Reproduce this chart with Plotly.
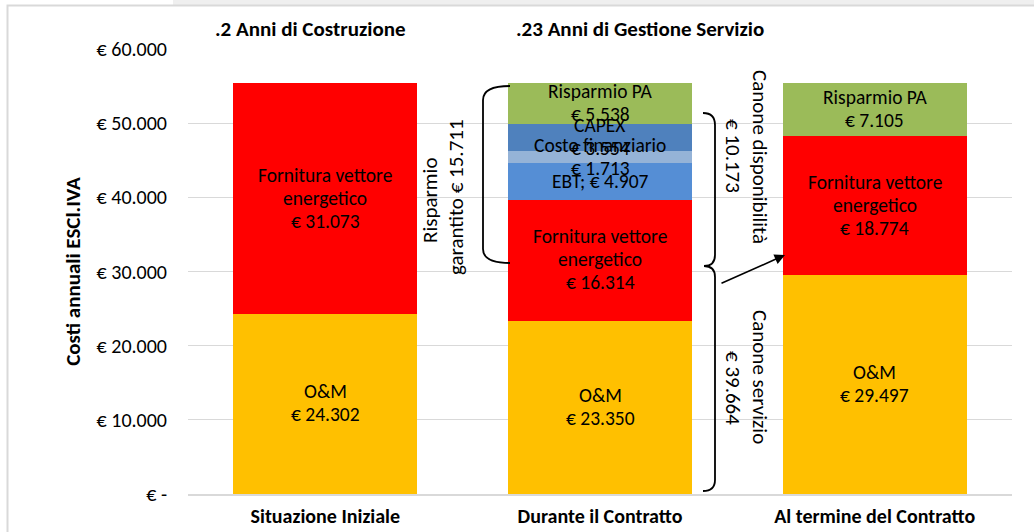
import plotly.graph_objects as go

# ---------------- data ----------------
categories = ["Situazione Iniziale", "Durante il Contratto", "Al termine del Contratto"]
series_names = ["O&M", "Fornitura vettore<br>energetico", "EBT", "Costo finanziario", "CAPEX", "Risparmio PA"]
om = [24302, 23350, 29497]
fornitura = [31073, 16314, 18774]
ebt = [0, 4907, 0]
costo_fin = [0, 1713, 0]
capex = [0, 3554, 0]
risparmio = [0, 5538, 7105]
series_values = [om, fornitura, ebt, costo_fin, capex, risparmio]
series_colors = ["#FFC000", "#FF0000", "#558ED5", "#95B3D7", "#4F81BD", "#9BBB59"]

y_ticks = [0, 10000, 20000, 30000, 40000, 50000, 60000]
y_ticktext = ["€ -", "€ 10.000", "€ 20.000", "€ 30.000", "€ 40.000", "€ 50.000", "€ 60.000"]

section_titles = [".2 Anni di Costruzione", ".23 Anni di Gestione Servizio"]
y_title = "Costi annuali ESCl.IVA"

risparmio_garantito = 15711
canone_disponibilita = 10173
canone_servizio = 39664

FONT = "Carlito, Lato, sans-serif"
W, H = 1034, 532
L, R, T, B = 188, 22, 49, 38
PW, PH = W - L - R, H - T - B


def eur(v):
    return "€ " + f"{v:,}".replace(",", ".")


def px_x(p):  # pixel -> paper x
    return (p - L) / PW


def px_y(p):  # pixel -> paper y
    return (H - B - p) / PH


x = list(range(len(categories)))
fig = go.Figure()
for name, vals, col in zip(series_names, series_values, series_colors):
    fig.add_trace(go.Bar(x=x, y=vals, name=name, marker=dict(color=col, line=dict(width=0)),
                         width=0.67, hoverinfo="skip"))

LBL = 19.5
LINE = 23
annotations = []
for i in x:
    base = 0
    for name, vals in zip(series_names, series_values):
        v = vals[i]
        if v > 0:
            if name == "EBT":
                lines = ["EBT; " + eur(v)]
            else:
                lines = name.split("<br>") + [eur(v)]
            n = len(lines)
            for k, ln in enumerate(lines):
                shift = ((n - 1) / 2 - k) * LINE + 1
                annotations.append(dict(x=i, y=base + v / 2, xref="x", yref="y", text=ln, showarrow=False,
                                        xanchor="center", yanchor="middle",
                                        yshift=shift, font=dict(family=FONT, size=LBL, color="#000000")))
        base += v


def ptext(px, py, text, size, angle=0, bold=False):
    return dict(x=px_x(px), y=px_y(py), xref="paper", yref="paper", xanchor="center", yanchor="middle",
                text=("<b>" + text + "</b>") if bold else text, textangle=angle, showarrow=False,
                font=dict(family=FONT, size=size, color="#000"))


# section titles
annotations.append(ptext(310, 29, section_titles[0], 21, bold=True))
annotations.append(ptext(640, 29, section_titles[1], 21, bold=True))

# brace texts
BF = 21
annotations.append(ptext(430, 200, "Risparmio", BF, -90))
annotations.append(ptext(456, 197, "garantito " + eur(risparmio_garantito), BF, -90))
annotations.append(ptext(760, 157, "Canone disponibilità", BF, 90))
annotations.append(ptext(733, 156, eur(canone_disponibilita), BF, 90))
annotations.append(ptext(760, 377, "Canone servizio", BF, 90))
annotations.append(ptext(733, 388, eur(canone_servizio), BF, 90))

# arrow
annotations.append(dict(x=px_x(785), y=px_y(255), ax=720 - 785, ay=284 - 255, xref="paper", yref="paper",
                        axref="pixel", ayref="pixel",
                        text="", showarrow=True, arrowhead=2, arrowsize=1.3, arrowwidth=1.6, arrowcolor="#000"))

shapes = []
brace_line = dict(color="#000000", width=1.8)


def P(px, py):
    return f"{px_x(px):.5f},{px_y(py):.5f}"


shapes.append(dict(type="path", xref="paper", yref="paper", line=brace_line,
                   path=f"M {P(510,86)} Q {P(483,86)} {P(483,100)} L {P(483,249)} Q {P(483,263)} {P(510,263)}"))
shapes.append(dict(type="path", xref="paper", yref="paper", line=brace_line,
                   path=f"M {P(703,113)} Q {P(715,113)} {P(715,125)} L {P(715,255)} Q {P(715,266)} {P(704,266)}"))
shapes.append(dict(type="path", xref="paper", yref="paper", line=brace_line,
                   path=f"M {P(704,266)} Q {P(715,266)} {P(715,277)} L {P(715,480)} Q {P(715,491)} {P(703,491)}"))
# top gray strip and outer frame
shapes.append(dict(type="rect", xref="paper", yref="paper", x0=px_x(173), x1=px_x(1045),
                   y0=px_y(5), y1=px_y(-10), fillcolor="#EFEFEF", line=dict(width=0), layer="above"))
shapes.append(dict(type="rect", xref="paper", yref="paper", x0=px_x(7.5), x1=px_x(1045),
                   y0=px_y(545), y1=px_y(5.5), fillcolor="rgba(0,0,0,0)",
                   line=dict(color="#D9D9D9", width=2), layer="above"))

fig.update_layout(
    barmode="stack",
    width=W, height=H,
    margin=dict(l=L, r=R, t=T, b=B, autoexpand=False),
    paper_bgcolor="white", plot_bgcolor="white",
    showlegend=False,
    font=dict(family=FONT, size=16, color="#000"),
    annotations=annotations,
    shapes=shapes,
    xaxis=dict(range=[-0.5, 2.5], tickvals=x, ticktext=["<b>" + c + "</b>" for c in categories],
               tickfont=dict(family=FONT, size=20, color="#000"), showgrid=False, zeroline=False,
               showline=True, linecolor="#D9D9D9", linewidth=2, ticks="", ticklabelstandoff=3,
               automargin=False),
    yaxis=dict(range=[0, 60000], tickvals=y_ticks, ticktext=y_ticktext,
               tickfont=dict(family=FONT, size=20, color="#000"), showgrid=True, gridcolor="#D9D9D9",
               gridwidth=1.3, zeroline=False, ticks="", ticklabelstandoff=20, automargin=False,
               title=dict(text="<b>" + y_title + "</b>", font=dict(family=FONT, size=21, color="#000"),
                          standoff=10)),
)

fig.write_html("out.html", config={"displayModeBar": False},
               post_script="document.body.style.margin='0';document.documentElement.style.overflow='hidden';")
